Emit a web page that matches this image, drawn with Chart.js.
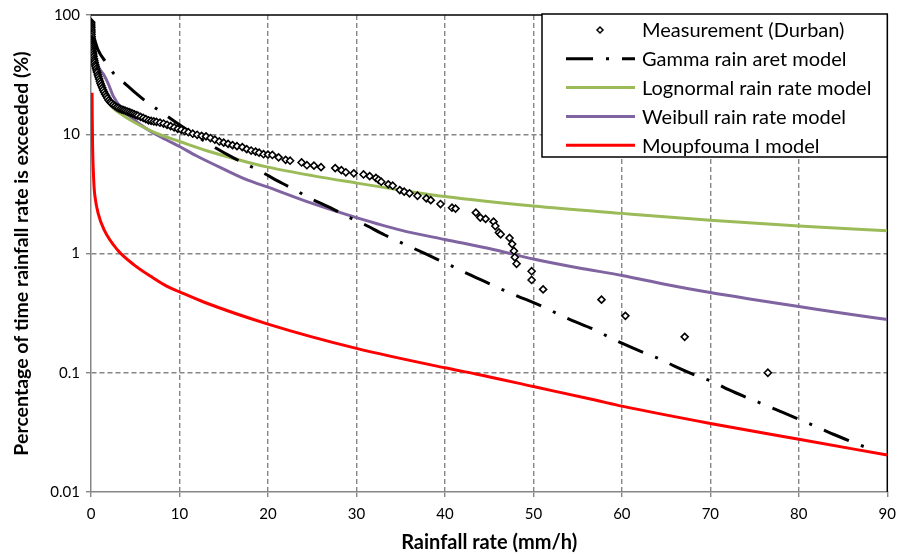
<!DOCTYPE html>
<html><head><meta charset="utf-8">
<script src="https://cdn.jsdelivr.net/npm/chart.js@4.4.0/dist/chart.umd.min.js"></script>
<style>html,body{margin:0;padding:0;background:#fff;}canvas{display:block;}</style>
</head><body>
<canvas id="c" width="904" height="557"></canvas>
<script>
// ---------- data ----------
const xTicks = [0, 10, 20, 30, 40, 50, 60, 70, 80, 90];
const yTicks = [0.01, 0.1, 1, 10, 100];

const seriesNames = ["Measurement (Durban)", "Gamma rain aret model", "Lognormal rain rate model", "Weibull rain rate model", "Moupfouma I model"];

const measRain = [0.02,0.03,0.035,0.04,0.05,0.055,0.06,0.07,0.08,0.09,0.1,0.12,0.14,0.16,0.19,0.22,0.25,0.29,0.33,0.37,0.42,0.47,0.52,0.58,0.64,0.7,0.77,0.84,0.92,1.0,1.08,1.17,1.27,1.37,1.48,1.6,1.72,1.85,2.0,2.15,2.3,2.5,2.7,2.9,3.1,3.3,3.5,3.7,3.9,4.1,4.3,4.5,4.7,4.9,5.1,5.3,5.6,5.9,6.2,6.5,6.8,7.1,7.4,7.8,8.2,8.6,9.0,9.4,9.8,10.2,10.6,11.0,11.5,12.0,12.5,13.0,13.5,14.0,14.5,15.0,15.5,16.0,16.5,17.1,17.6,18.1,18.6,19.0,19.5,20.0,20.5,21.2,22.0,22.5,23.8,24.4,25.2,26.0,27.6,28.3,28.8,29.7,30.8,31.5,32.2,32.5,32.8,33.6,34.1,34.9,35.4,36.0,36.9,37.9,38.4,39.5,40.8,41.2,43.5,44.0,44.6,45.5,45.7,46.1,46.3,47.3,47.6,47.8,47.9,48.1,49.8,49.8,51.1,57.7,60.4,67.1,76.5];
const measPct  = [87,84,81,78,75,72,69,66,63,61,59,57,55,53,51,49,47,45,43,41.5,40,38.3,37,35.5,34,33,31.5,30.3,29,27.8,26.7,25.6,24.5,23.5,22.6,21.7,20.9,20.1,19.3,18.7,18.2,17.7,17.3,16.9,16.6,16.3,16.1,15.9,15.7,15.5,15.3,15.1,14.9,14.7,14.5,14.3,14.0,13.7,13.4,13.1,12.95,12.8,12.7,12.5,12.3,12.0,11.7,11.4,11.1,10.9,10.6,10.4,10.1,9.9,9.7,9.6,9.3,9.0,8.7,8.5,8.3,8.1,7.95,7.8,7.5,7.3,7.15,7.0,6.8,6.75,6.7,6.4,6.1,6.0,5.8,5.5,5.45,5.3,5.2,5.0,4.8,4.7,4.6,4.45,4.3,4.15,4.0,3.8,3.7,3.4,3.3,3.2,3.05,2.9,2.8,2.6,2.42,2.38,2.2,2.0,1.95,1.85,1.7,1.5,1.45,1.35,1.2,1.05,0.93,0.82,0.71,0.6,0.5,0.41,0.3,0.2,0.1];

const gammaRain = [0.3,0.8,1.7,2.7,4.0,5.1,6.4,7.7,10,13,16,19,21.6,23.2,24.6,27.2,29,30.6,33.2,34.9,36.4,39.2,40.7,42.3,45,46.7,48.2,51,52.6,54.1,56.9,58.5,60,62.9,64.5,66,68.9,70.4,72,74.9,76.4,77.9,80.8,82.4,83.9,86.9,88.5];
const gammaPct  = [66,51,40,31.4,26,22,18.4,15.8,12,8.6,6.4,4.95,3.88,3.37,2.94,2.39,2.04,1.80,1.43,1.25,1.11,0.89,0.79,0.69,0.56,0.49,0.44,0.36,0.316,0.28,0.23,0.20,0.177,0.143,0.1285,0.113,0.0916,0.0834,0.0724,0.0587,0.0529,0.0475,0.0385,0.0342,0.0305,0.0248,0.0222];

const lognRain = [0.1,0.3,0.6,1.0,1.5,2.3,3.6,5.5,7.5,10,13,17.8,20,25,30,35,40,50,60,70,80,90];
const lognPct  = [58,40,31,25.5,21.2,17.2,14.4,11.9,10.1,8.7,7.3,5.8,5.3,4.5,3.9,3.4,3.0,2.5,2.17,1.9,1.7,1.55];

const weibRain = [0.1,0.3,0.6,1.0,1.4,2.0,2.5,3.5,4.4,6.2,8.5,10,11.9,15,17.8,20,25,30,35,40,45,50,55,60,65,70,75,80,85,90];
const weibPct  = [62,47,40,35,32,26,21,16.3,14.1,11.2,9.0,7.9,6.6,5.1,4.1,3.6,2.63,2.0,1.57,1.31,1.1,0.9,0.76,0.655,0.55,0.47,0.41,0.36,0.315,0.28];

const moupRain = [0.12,0.14,0.18,0.25,0.35,0.45,0.8,1.5,3,4.9,6.8,8.6,10,12.8,20,30,40,43.5,50,57.1,60,70,80,90];
const moupPct  = [22.3,14,8,5.2,3.6,3.0,2.18,1.57,1.07,0.8,0.64,0.53,0.477,0.39,0.256,0.16,0.11,0.0977,0.0766,0.0587,0.0525,0.0376,0.0277,0.0204];

// ---------- build ----------
const pts = (xs, ys) => xs.map((x, i) => ({x: x, y: ys[i]}));
const FONT = "Lato, 'Open Sans', sans-serif";
const GRID = '#868686';

const lineDs = (label, xs, ys, color, dash) => ({
  label, data: pts(xs, ys), showLine: true, borderColor: color, backgroundColor: color,
  borderWidth: 3, pointRadius: 0, pointHoverRadius: 0, borderDash: dash || [],
  cubicInterpolationMode: 'monotone', fill: false
});

const datasets = [
  { label: seriesNames[0], data: pts(measRain, measPct), showLine: false,
    pointStyle: 'rectRot', pointRadius: 3.5, pointBorderWidth: 1.6,
    pointBorderColor: '#000', pointBackgroundColor: '#fff', borderColor: '#000', backgroundColor: '#fff' },
  lineDs(seriesNames[1], gammaRain, gammaPct, '#000000', [27, 13, 3, 13]),
  lineDs(seriesNames[2], lognRain, lognPct, '#9BBB59'),
  lineDs(seriesNames[3], weibRain, weibPct, '#8064A2'),
  lineDs(seriesNames[4], moupRain, moupPct, '#FF0000')
];

const frame = {
  id: 'frame',
  beforeDatasetsDraw(chart) {
    const {ctx, chartArea: a} = chart;
    ctx.save();
    ctx.strokeStyle = '#000'; ctx.lineWidth = 1.5;
    ctx.beginPath();
    ctx.moveTo(a.left, a.top); ctx.lineTo(a.right, a.top); ctx.lineTo(a.right, a.bottom);
    ctx.stroke();
    ctx.restore();
  }
};

const legendBox = {
  id: 'legendBox',
  afterDatasetsDraw(chart) {
    const {ctx, chartArea: a} = chart;
    const L = 542, T = 14, R = a.right, B = 157;
    ctx.save();
    ctx.fillStyle = '#fff'; ctx.fillRect(L, T, R - L, B - T);
    ctx.strokeStyle = '#000'; ctx.lineWidth = 1.5; ctx.strokeRect(L, T, R - L, B - T);
    ctx.font = "20px " + FONT; ctx.textBaseline = 'middle'; ctx.textAlign = 'left';
    chart.data.datasets.forEach((ds, i) => {
      const y = 30 + i * 28.8;
      if (i === 0) {
        ctx.beginPath();
        ctx.moveTo(600, y - 3); ctx.lineTo(603, y); ctx.lineTo(600, y + 3); ctx.lineTo(597, y); ctx.closePath();
        ctx.fillStyle = '#fff'; ctx.fill(); ctx.lineWidth = 1.5; ctx.strokeStyle = '#000'; ctx.stroke();
      } else {
        ctx.beginPath(); ctx.setLineDash(ds.borderDash || []);
        ctx.lineWidth = 3; ctx.strokeStyle = ds.borderColor;
        ctx.moveTo(566, y); ctx.lineTo(635, y); ctx.stroke(); ctx.setLineDash([]);
      }
      ctx.fillStyle = '#000';
      ctx.fillText(ds.label, 642, y + 1);
    });
    ctx.restore();
  }
};

new Chart(document.getElementById('c'), {
  type: 'scatter',
  data: { datasets },
  plugins: [frame, legendBox],
  options: {
    responsive: false, animation: false, devicePixelRatio: 1,
    layout: { padding: { left: 0, right: 11, top: 15, bottom: 0 } },
    plugins: { legend: { display: false }, tooltip: { enabled: false } },
    scales: {
      x: {
        type: 'linear', min: xTicks[0], max: xTicks[xTicks.length - 1],
        afterFit: s => { s.height = 65; },
        afterBuildTicks: s => { s.ticks = xTicks.map(v => ({value: v})); },
        grid: { color: c => (c.tick && (c.tick.value === xTicks[0] || c.tick.value === xTicks[xTicks.length-1])) ? 'rgba(0,0,0,0)' : GRID,
                lineWidth: 1.4, tickLength: 5, tickColor: GRID, tickBorderDash: [], drawTicks: true },
        border: { display: true, color: GRID, width: 1.5, dash: [5, 3] },
        ticks: { color: '#000', font: { family: FONT, size: 15 }, padding: 8, maxRotation: 0, autoSkip: false },
        title: { display: true, text: 'Rainfall rate (mm/h)', color: '#000', font: { family: FONT, size: 20, weight: 'bold' }, padding: { top: 0, bottom: 2 } }
      },
      y: {
        type: 'logarithmic', min: yTicks[0], max: yTicks[yTicks.length - 1],
        afterFit: s => { s.width = 91; },
        afterBuildTicks: s => { s.ticks = yTicks.map(v => ({value: v})); },
        grid: { color: c => (c.tick && (c.tick.value === yTicks[0] || c.tick.value === yTicks[yTicks.length-1])) ? 'rgba(0,0,0,0)' : GRID,
                lineWidth: 1.4, tickLength: 5, tickColor: GRID, tickBorderDash: [] },
        border: { display: true, color: GRID, width: 1.5, dash: [5, 3] },
        ticks: { color: '#000', font: { family: FONT, size: 15 }, padding: 6, callback: v => String(v) },
        title: { display: true, text: 'Percentage of time rainfall rate is exceeded (%)', color: '#000', font: { family: FONT, size: 19.5, weight: 'bold' }, padding: { top: 10, bottom: 0 } }
      }
    }
  }
});
</script>
</body></html>
